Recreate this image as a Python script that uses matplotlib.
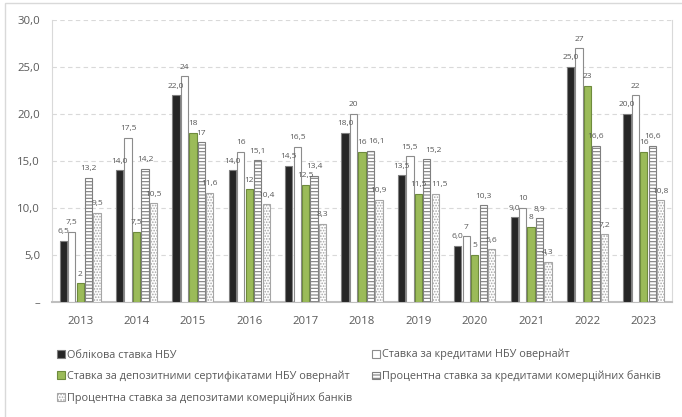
import matplotlib

matplotlib.use("Agg")
import matplotlib.pyplot as plt
import numpy as np
from matplotlib.patches import Rectangle
from matplotlib.ticker import FuncFormatter

years = ["2013", "2014", "2015", "2016", "2017", "2018", "2019", "2020", "2021", "2022", "2023"]

discount_rate = [6.5, 14.0, 22.0, 14.0, 14.5, 18.0, 13.5, 6.0, 9.0, 25.0, 20.0]
overnight_credit = [7.5, 17.5, 24, 16, 16.5, 20, 15.5, 7, 10, 27, 22]
deposit_certificates = [2, 7.5, 18, 12, 12.5, 16, 11.5, 5, 8, 23, 16]
bank_credit_rate = [13.2, 14.2, 17, 15.1, 13.4, 16.1, 15.2, 10.3, 8.9, 16.6, 16.6]
bank_deposit_rate = [9.5, 10.5, 11.6, 10.4, 8.3, 10.9, 11.5, 5.6, 4.3, 7.2, 10.8]

series_names = [
    "Облікова ставка НБУ",
    "Ставка за кредитами НБУ овернайт",
    "Ставка за депозитними сертифікатами НБУ овернайт",
    "Процентна ставка за кредитами комерційних банків",
    "Процентна ставка за депозитами комерційних банків",
]

TEXT = "#595959"

# a few labels were pushed sideways in the original (series, year) -> points
label_nudge = {(3, 5): 4.5, (3, 6): 5.0, (4, 6): 3.0}


def general_label(value):
    if float(value).is_integer():
        return str(int(value))
    return f"{value:.1f}".replace(".", ",")


def fixed_label(value):
    return f"{value:.1f}".replace(".", ",")


plt.rcParams["font.family"] = ["Open Sans", "DejaVu Sans"]
plt.rcParams["hatch.linewidth"] = 0.8

fig = plt.figure(figsize=(6.82, 4.17), dpi=100)
ax = fig.add_axes([52 / 682, 1 - 302 / 417, 620 / 682, 282 / 417])

# outer chart border
fig.patches.append(Rectangle((5 / 682, -0.1), 1.2, 1.1 - 3 / 417, transform=fig.transFigure,
                             fill=False, edgecolor="#D9D9D9", linewidth=1.0))

x = np.arange(len(years))
step = 0.15
width = 0.128

styles = [
    dict(color="#262626", edgecolor="#7F7F7F", hatch=None),
    dict(color="white", edgecolor="#8C8C8C", hatch=None),
    dict(color="#9BBB59", edgecolor="#6E8B3D", hatch=None),
    dict(color="white", edgecolor="#7F7F7F", hatch="-----"),
    dict(color="white", edgecolor="#A6A6A6", hatch="......"),
]
data = [discount_rate, overnight_credit, deposit_certificates, bank_credit_rate, bank_deposit_rate]
formats = [fixed_label, general_label, general_label, general_label, general_label]

handles = []
for i, (values, style, fmt, name) in enumerate(zip(data, styles, formats, series_names)):
    bars = ax.bar(x + (i - 2) * step, values, width, color=style["color"],
                  edgecolor=style["edgecolor"], hatch=style["hatch"], linewidth=0.8,
                  label=name, zorder=3)
    handles.append(bars)
    for j, (bar, value) in enumerate(zip(bars, values)):
        dx = label_nudge.get((i, j), 0)
        ax.annotate(fmt(value), (bar.get_x() + bar.get_width() / 2, bar.get_height()),
                    xytext=(dx, 4), textcoords="offset points", ha="center", va="bottom",
                    fontsize=6.0, color=TEXT, zorder=6)

ax.set_xlim(-0.5, len(years) - 0.5)
ax.set_ylim(0, 30)
ax.set_yticks(np.arange(0, 31, 5))
ax.yaxis.set_major_formatter(FuncFormatter(lambda v, _: "–" if v == 0 else f"{v:.1f}".replace(".", ",")))
ax.set_xticks(x)
ax.set_xticklabels(years)
ax.tick_params(axis="both", length=0, labelsize=8.2, colors=TEXT)
ax.tick_params(axis="x", pad=10)
ax.tick_params(axis="y", pad=8.6)
ax.yaxis.grid(True, color="#D9D9D9", linestyle=(0, (4, 3)), linewidth=0.8, zorder=0)
ax.set_axisbelow(True)

for side in ("left", "right"):
    ax.spines[side].set_color("#D9D9D9")
    ax.spines[side].set_linewidth(0.8)
ax.spines["top"].set_visible(False)
ax.spines["bottom"].set_color("#BFBFBF")
ax.spines["bottom"].set_linewidth(1.5)

order = [0, 2, 4, 1, 3]
fig.legend([handles[k] for k in order], [series_names[k] for k in order],
           loc="upper left", bbox_to_anchor=(57 / 682, 1 - 349 / 417), ncol=2,
           frameon=False, fontsize=7.8, labelcolor=TEXT, handlelength=0.7,
           handleheight=0.7, handletextpad=0.25, labelspacing=0.92, columnspacing=1.8,
           borderpad=0, borderaxespad=0)

fig.savefig("out.png", dpi=100)
